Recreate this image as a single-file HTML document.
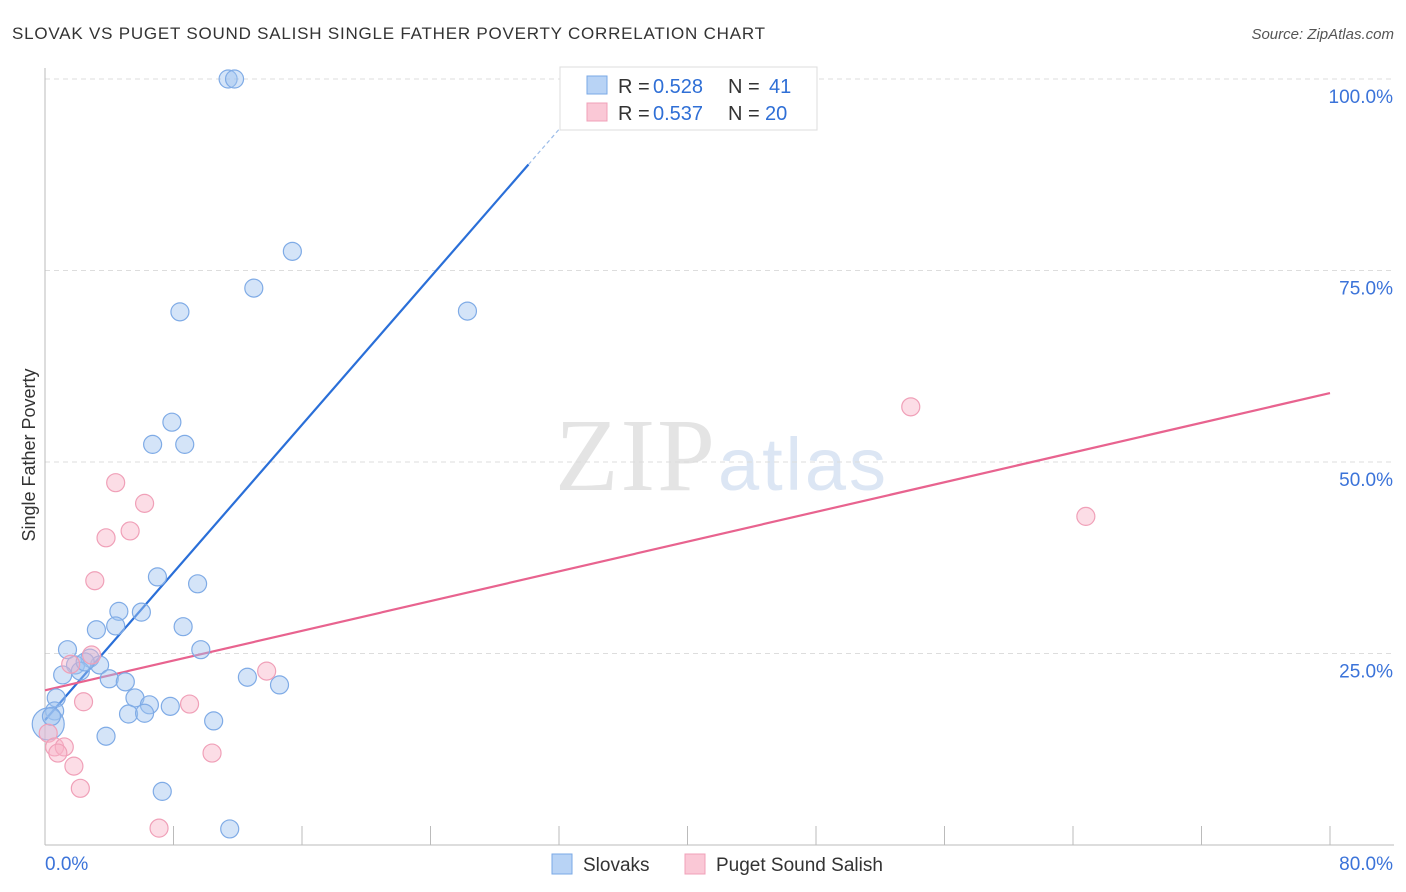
<!DOCTYPE html>
<html><head><meta charset="utf-8"><style>
body{margin:0;background:#fff;font-family:"Liberation Sans",sans-serif;}
svg{display:block}
</style></head><body>
<svg id="chart" width="1406" height="892">
<text x="12" y="39" font-size="17" fill="#333" textLength="753">SLOVAK VS PUGET SOUND SALISH SINGLE FATHER POVERTY CORRELATION CHART</text>
<text x="1394" y="39" font-size="15" fill="#555" text-anchor="end" font-style="italic">Source: ZipAtlas.com</text>
<text x="715" y="490" font-size="104" fill="#e4e4e4" text-anchor="end" font-family="Liberation Serif,serif" textLength="160">ZIP</text>
<text x="718" y="490" font-size="74" fill="#dce6f4" textLength="168">atlas</text>
<g id="grid"></g><g id="axes"></g><g id="lines"></g><g id="pts"></g>
<text x="35" y="455" font-size="18" fill="#333" text-anchor="middle" transform="rotate(-90 35 455)">Single Father Poverty</text>
<g>
<rect x="560" y="67" width="257" height="63" fill="#fff" stroke="#ddd"/>
<rect x="587" y="76" width="20" height="18" fill="#b8d3f5" stroke="#7aa8e6"/>
<rect x="587" y="103" width="20" height="18" fill="#fac8d6" stroke="#f0a0b8"/>
<text x="618" y="93" font-size="20" fill="#333">R =</text><text x="653" y="93" font-size="20" fill="#2f6fd6">0.528</text>
<text x="728" y="93" font-size="20" fill="#333">N =</text><text x="769" y="93" font-size="20" fill="#2f6fd6">41</text>
<text x="618" y="120" font-size="20" fill="#333">R =</text><text x="653" y="120" font-size="20" fill="#2f6fd6">0.537</text>
<text x="728" y="120" font-size="20" fill="#333">N =</text><text x="765" y="120" font-size="20" fill="#2f6fd6">20</text>
</g>
<g>
<rect x="552" y="854" width="20" height="20" fill="#b8d3f5" stroke="#7aa8e6"/>
<text x="583" y="871" font-size="19" fill="#333">Slovaks</text>
<rect x="685" y="854" width="20" height="20" fill="#fac8d6" stroke="#f0a0b8"/>
<text x="716" y="871" font-size="19" fill="#333">Puget Sound Salish</text>
</g>
</svg>
<script>
const yTicks=[25,50,75,100];
const xTickLabels=["0.0%","80.0%"];
const blueX=[11.4,11.8,15.4,13.0,8.4,26.3,7.9,6.7,8.7,7.0,9.5,4.6,6.0,3.2,4.4,8.6,1.4,9.7,2.8,3.4,1.9,2.2,1.1,4.0,5.0,12.6,14.6,0.7,5.6,6.5,7.8,0.6,5.2,6.2,10.5,0.2,3.8,7.3,11.5,2.5,0.4];
const blueY=[100,100,77.5,72.7,69.6,69.7,55.2,52.3,52.3,35.0,34.1,30.5,30.4,28.1,28.6,28.5,25.5,25.5,24.4,23.5,23.5,22.7,22.2,21.7,21.3,21.9,20.9,19.2,19.2,18.3,18.1,17.5,17.1,17.2,16.2,15.8,14.2,7.0,2.1,23.9,16.8];
const pinkX=[53.9,64.8,4.4,6.2,5.3,3.8,3.1,2.9,1.6,13.8,2.4,9.0,0.2,0.6,1.2,0.8,10.4,1.8,2.2,7.1];
const pinkY=[57.2,42.9,47.3,44.6,41.0,40.1,34.5,24.8,23.6,22.7,18.7,18.4,14.6,12.8,12.8,12.0,12.0,10.3,7.4,2.2];
const blueFit=[16.3,2.41]; const pinkFit=[20.2,0.485];
const NS="http://www.w3.org/2000/svg";
const X=v=>45+v*16.0625, Y=v=>845-v*7.66;
function mk(t,a,p){const e=document.createElementNS(NS,t);for(const k in a)e.setAttribute(k,a[k]);document.getElementById(p).appendChild(e);return e;}
yTicks.forEach(t=>{
 const l=mk('line',{x1:45,x2:1394,y1:Y(t),y2:Y(t),stroke:'#ddd','stroke-dasharray':'5,4'},'grid');
 
 
 const tx=mk('text',{x:1393,y:Y(t)+24,'font-size':19,fill:'#3b73d9','text-anchor':'end'},'grid');tx.textContent=t.toFixed(1)+'%';
 
 
});
mk('line',{x1:45,x2:45,y1:68,y2:845,stroke:'#bbb'},'axes');
mk('line',{x1:45,x2:1394,y1:845,y2:845,stroke:'#bbb'},'axes');
for(let i=0;i<=10;i++){const t=mk('line',{x1:X(i*8),x2:X(i*8),y1:826,y2:845,stroke:'#bbb'},'axes');
 
 }
let a=mk('text',{x:45,y:870,'font-size':19,fill:'#3b73d9'},'axes');a.textContent=xTickLabels[0];


a=mk('text',{x:1393,y:870,'font-size':19,fill:'#3b73d9','text-anchor':'end'},'axes');a.textContent=xTickLabels[1];


let l=mk('line',{x1:X(0),y1:Y(blueFit[0]),x2:X(30.1),y2:Y(blueFit[0]+blueFit[1]*30.1),stroke:'#2a6fd8','stroke-width':2.2},'lines');


l=mk('line',{x1:X(30.1),y1:Y(blueFit[0]+blueFit[1]*30.1),x2:X(33.6),y2:Y(blueFit[0]+blueFit[1]*33.6),stroke:'#9bbce8','stroke-width':1.2,'stroke-dasharray':'4,3'},'lines');


l=mk('line',{x1:X(0),y1:Y(pinkFit[0]),x2:X(80),y2:Y(pinkFit[0]+pinkFit[1]*80),stroke:'#e8638f','stroke-width':2.2},'lines');


blueX.forEach((v,i)=>{const c=mk('circle',{cx:X(v),cy:Y(blueY[i]),r:i==35?16:9,fill:'rgba(160,196,240,0.45)',stroke:'#7fabe6','stroke-width':1.2},'pts');
 
 });
pinkX.forEach((v,i)=>{const c=mk('circle',{cx:X(v),cy:Y(pinkY[i]),r:9,fill:'rgba(248,180,200,0.45)',stroke:'#f0a0b8','stroke-width':1.2},'pts');
 
 });
</script>
</body></html>
